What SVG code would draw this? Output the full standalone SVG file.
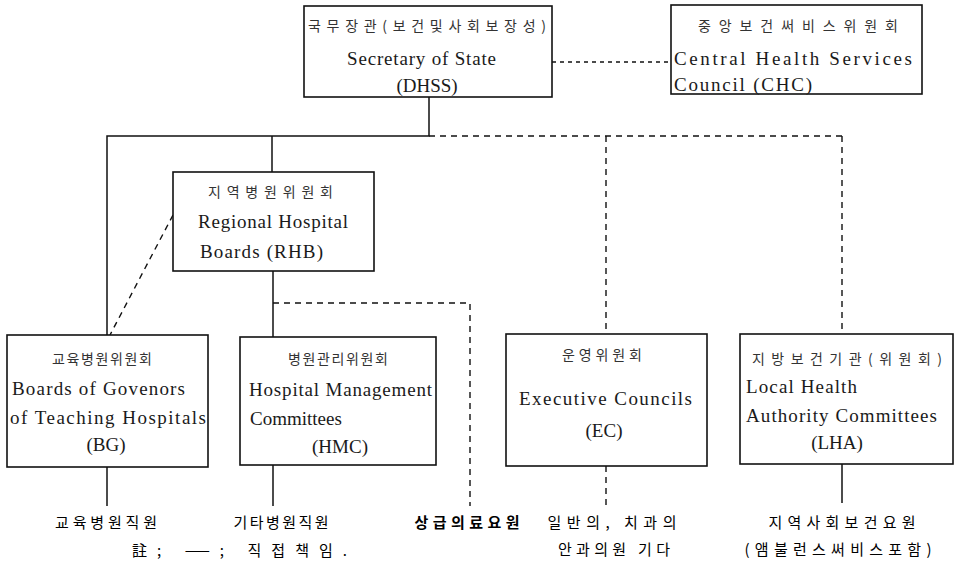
<svg xmlns="http://www.w3.org/2000/svg" width="956" height="570" viewBox="0 0 956 570">
<style>
.box{fill:#fff;stroke:#111;stroke-width:1.6}
.ln{fill:none;stroke:#111;stroke-width:1.5}
.dl{fill:none;stroke:#111;stroke-width:1.4;stroke-dasharray:6 5}
.en{font-family:"Liberation Serif","Times New Roman",serif;font-size:19px;fill:#1a1a1a}
.ko{font-family:"Noto Sans CJK KR","Noto Sans",sans-serif;font-size:14px;fill:#333}
.lb{font-family:"Noto Sans CJK KR","Noto Sans",sans-serif;font-size:15px;font-weight:400;fill:#000}
.bd{font-weight:700}
</style>
<rect width="956" height="570" fill="#fff"/>
<g id="connectors">
<polyline class="ln" points="429,97 429,136 107,136 107,335"/>
<line class="ln" x1="272" y1="136" x2="272" y2="172"/>
<line class="ln" x1="273" y1="271" x2="273" y2="337"/>
<line class="ln" x1="107" y1="467" x2="107" y2="506"/>
<line class="ln" x1="273" y1="465" x2="273" y2="506"/>
<line class="ln" x1="842" y1="464" x2="842" y2="503"/>
<line class="dl" x1="552" y1="62" x2="671" y2="62" style="stroke-dasharray:4 4"/>
<line class="dl" x1="429" y1="136" x2="842" y2="136"/>
<line class="dl" x1="606" y1="136" x2="606" y2="334"/>
<line class="dl" x1="842" y1="136" x2="842" y2="334"/>
<polyline class="dl" points="273,303 470,303 470,506"/>
<line class="dl" x1="173" y1="215" x2="110" y2="335"/>
<line class="dl" x1="606" y1="466" x2="606" y2="506"/>
</g>
<g id="dhss">
<rect class="box" x="304" y="6" width="248" height="91"/>
<text class="ko" x="308" y="31" textLength="238" lengthAdjust="spacing">국무장관(보건및사회보장성)</text>
<text class="en" x="347" y="65" textLength="149" lengthAdjust="spacing">Secretary of State</text>
<text class="en" x="427" y="92" text-anchor="middle">(DHSS)</text>
</g>
<g id="chc">
<rect class="box" x="671" y="5" width="251" height="89"/>
<text class="ko" x="698" y="31" textLength="200" lengthAdjust="spacing">중앙보건써비스위원회</text>
<text class="en" x="674" y="65" textLength="238" lengthAdjust="spacing">Central Health Services</text>
<text class="en" x="674" y="91" textLength="138" lengthAdjust="spacing">Council (CHC)</text>
</g>
<g id="rhb">
<rect class="box" x="173" y="172" width="201" height="99"/>
<text class="ko" x="208" y="197" textLength="125" lengthAdjust="spacing">지역병원위원회</text>
<text class="en" x="198" y="228" textLength="150" lengthAdjust="spacing">Regional Hospital</text>
<text class="en" x="200" y="258" textLength="123" lengthAdjust="spacing">Boards (RHB)</text>
</g>
<g id="bg">
<rect class="box" x="7" y="335" width="201" height="132"/>
<text class="ko" x="102" y="364" text-anchor="middle" textLength="100" lengthAdjust="spacing">교육병원위원회</text>
<text class="en" x="12" y="395" textLength="173" lengthAdjust="spacing">Boards of Govenors</text>
<text class="en" x="10" y="424" textLength="196" lengthAdjust="spacing">of Teaching Hospitals</text>
<text class="en" x="106" y="451" text-anchor="middle">(BG)</text>
</g>
<g id="hmc">
<rect class="box" x="240" y="337" width="196" height="128"/>
<text class="ko" x="338" y="364" text-anchor="middle" textLength="100" lengthAdjust="spacing">병원관리위원회</text>
<text class="en" x="249" y="396" textLength="183" lengthAdjust="spacing">Hospital Management</text>
<text class="en" x="250" y="425">Committees</text>
<text class="en" x="340" y="453" text-anchor="middle">(HMC)</text>
</g>
<g id="ec">
<rect class="box" x="506" y="334" width="201" height="132"/>
<text class="ko" x="602" y="360" text-anchor="middle" textLength="80" lengthAdjust="spacing">운영위원회</text>
<text class="en" x="519" y="405" textLength="173" lengthAdjust="spacing">Executive Councils</text>
<text class="en" x="604" y="437" text-anchor="middle">(EC)</text>
</g>
<g id="lha">
<rect class="box" x="740" y="334" width="213" height="130"/>
<text class="ko" x="752" y="364" textLength="190" lengthAdjust="spacing">지방보건기관(위원회)</text>
<text class="en" x="746" y="393" textLength="111" lengthAdjust="spacing">Local Health</text>
<text class="en" x="746" y="422" textLength="191" lengthAdjust="spacing">Authority Committees</text>
<text class="en" x="837" y="449" text-anchor="middle">(LHA)</text>
</g>
<g id="labels">
<text class="lb" x="106" y="528" text-anchor="middle" textLength="102" lengthAdjust="spacing">교육병원직원</text>
<text class="lb" x="281" y="528" text-anchor="middle" textLength="95" lengthAdjust="spacing">기타병원직원</text>
<text class="lb bd" x="467" y="528" text-anchor="middle" textLength="105" lengthAdjust="spacing">상급의료요원</text>
<text class="lb" x="612" y="528" text-anchor="middle" textLength="129" lengthAdjust="spacing">일반의, 치과의</text>
<text class="lb" x="614" y="555" text-anchor="middle" textLength="112" lengthAdjust="spacing">안과의원 기다</text>
<text class="lb" x="842" y="528" text-anchor="middle" textLength="147" lengthAdjust="spacing">지역사회보건요원</text>
<text class="lb" x="838" y="555" text-anchor="middle" textLength="187" lengthAdjust="spacing">(앰불런스써비스포함)</text>
<text class="lb" x="132" y="556" textLength="215" lengthAdjust="spacing">註; ——; 직접책임.</text>
</g>
</svg>
